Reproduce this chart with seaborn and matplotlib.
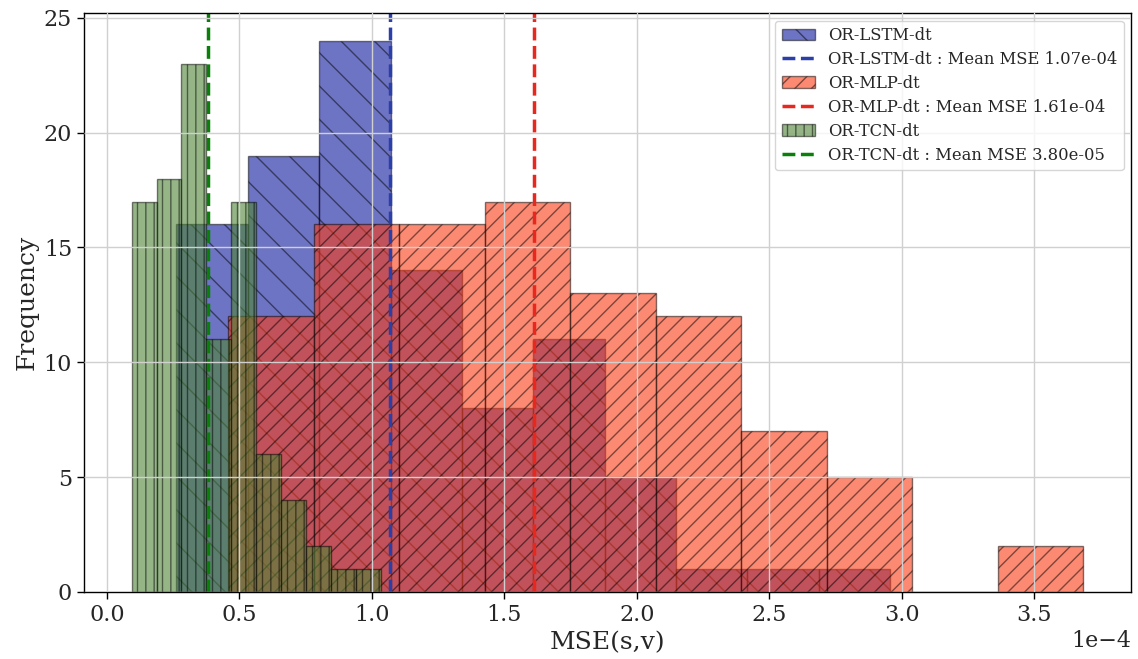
import numpy as np
import pandas as pd
import matplotlib
matplotlib.use("Agg")
import matplotlib.pyplot as plt
import seaborn as sns

# ---- data ----
models = ["OR-LSTM-dt", "OR-MLP-dt", "OR-TCN-dt"]
lstm_range = (0.2625e-4, 2.9555e-4)
lstm_counts = [16, 19, 24, 14, 8, 11, 5, 1, 1, 1]
mlp_range = (0.457e-4, 3.685e-4)
mlp_counts = [12, 16, 16, 17, 13, 12, 7, 5, 0, 2]
tcn_range = (0.093e-4, 1.035e-4)
tcn_counts = [17, 18, 23, 11, 17, 6, 4, 2, 1, 1]
mean_mse = [1.07e-4, 1.61e-4, 3.80e-5]

sns.set_style("whitegrid")
plt.rcParams["font.family"] = ["DejaVu Serif"]
plt.rcParams["hatch.linewidth"] = 1.0

fig = plt.figure(figsize=(11.38, 6.59), dpi=100)
ax = fig.add_axes([0.0738, 0.1017, 0.92, 0.8783])

fill_colors = ["#0d179d", "#fa3a14", "#4f8537"]
line_colors = ["#2b3fa8", "#e8281e", "#0a800a"]
hatches = ["\\", "//", "||"]
ranges = [lstm_range, mlp_range, tcn_range]
counts_all = [lstm_counts, mlp_counts, tcn_counts]

handles, labels = [], []
for name, rng, cnt, fc, lc, h, mu in zip(models, ranges, counts_all,
                                         fill_colors, line_colors, hatches, mean_mse):
    edges = np.linspace(rng[0], rng[1], len(cnt) + 1)
    centers = (edges[:-1] + edges[1:]) / 2
    df = pd.DataFrame({"mse": centers, "n": cnt})
    n_before = len(ax.containers)
    sns.histplot(data=df, x="mse", weights="n", bins=list(edges), ax=ax,
                 color=fc, alpha=0.6, edgecolor=(0, 0, 0, 0.5), linewidth=1.0,
                 hatch=h, label=name)
    bars = ax.containers[n_before]
    ln = ax.axvline(mu, color=lc, linestyle="--", linewidth=2.5)
    handles += [bars.patches[0], ln]
    labels += [name, f"{name} : Mean MSE {mu:.2e}"]

ax.ticklabel_format(style="sci", axis="x", scilimits=(0, 0), useMathText=False)
ax.set_axisbelow(False)
ax.grid(True, color="#d0d0d0", linewidth=1.0)
for s in ax.spines.values():
    s.set_color("black")
    s.set_linewidth(1.0)
ax.tick_params(axis="both", which="major", labelsize=16, length=5, width=1,
               color="black", direction="out", bottom=True, left=True)
ax.xaxis.get_offset_text().set_fontsize(16)
ax.set_xlabel("MSE(s,v)", fontsize=18)
ax.set_ylabel("Frequency", fontsize=18)
ax.legend(handles, labels, loc="upper right", fontsize=11.8, frameon=True,
          labelspacing=0.42, borderaxespad=0.45)

fig.savefig("out.png", dpi=100)
